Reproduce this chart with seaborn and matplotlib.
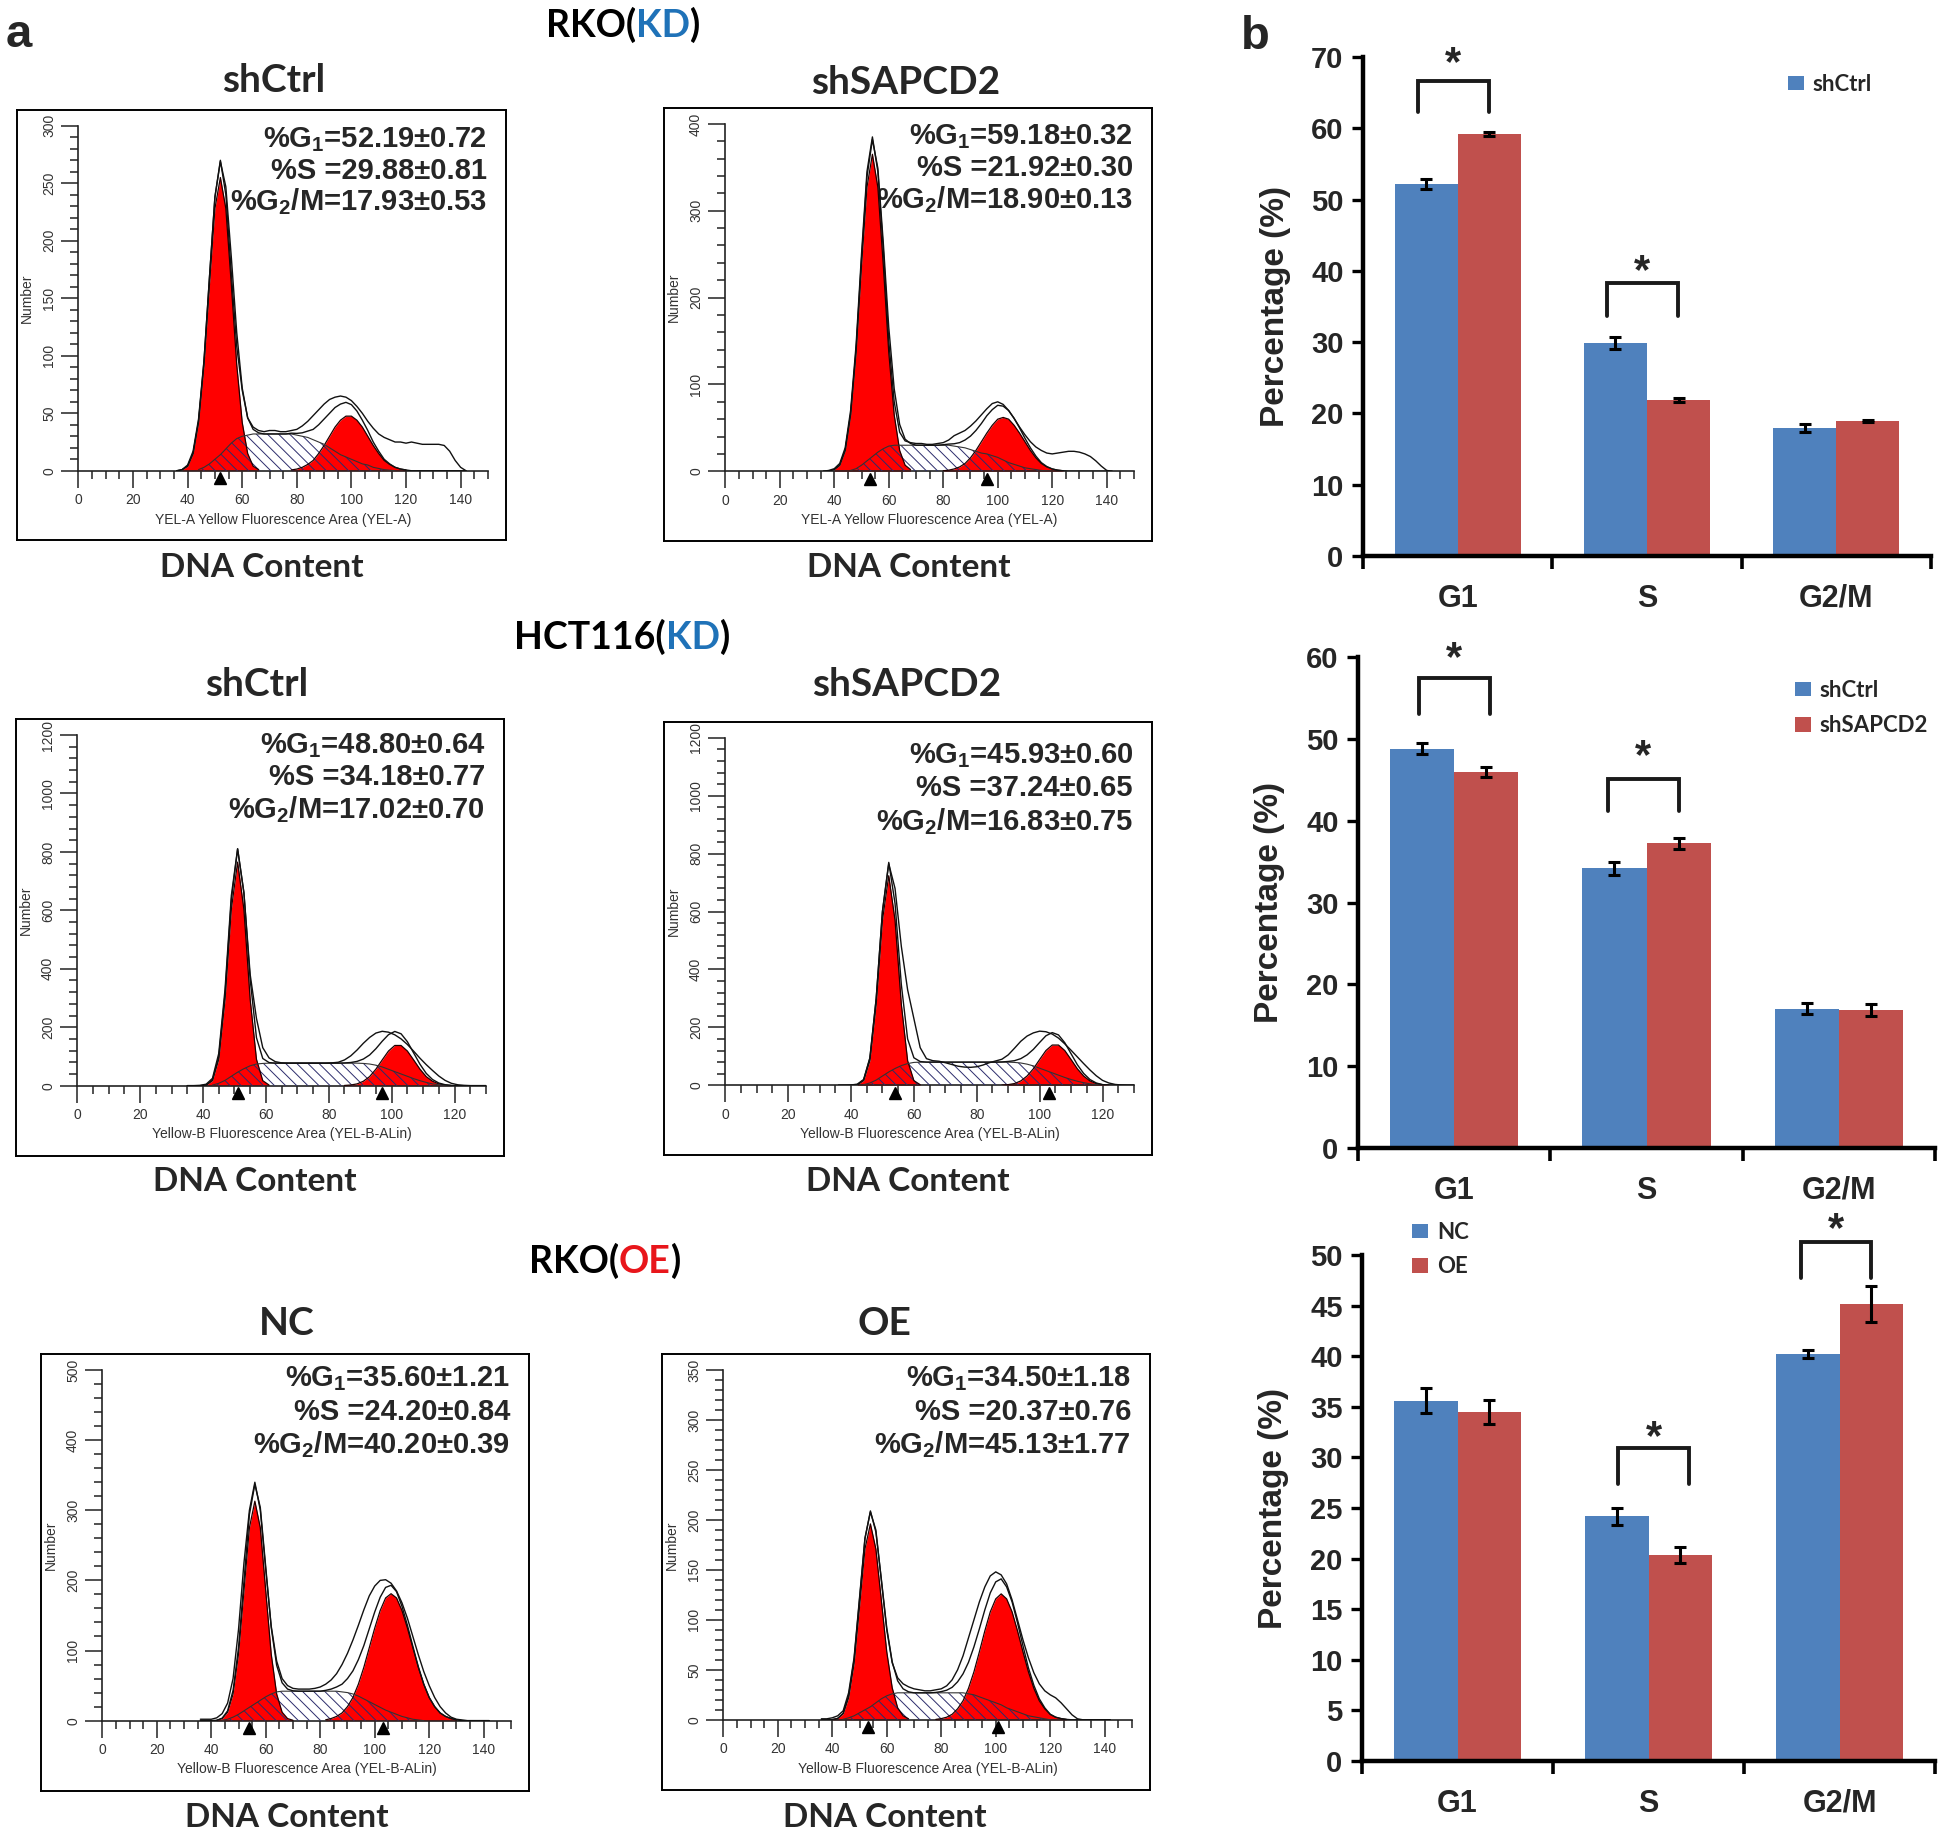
import numpy as np
import pandas as pd
import matplotlib
matplotlib.use('Agg')
import matplotlib.pyplot as plt
import seaborn as sns
from matplotlib.ticker import MultipleLocator, FixedLocator
from matplotlib.patches import Patch

# ---------------- data ----------------
PHASES = ['G1', 'S', 'G2/M']

# cell-cycle percentages (mean, sd) per condition
RKO_KD_CTRL = [52.19, 29.88, 17.93]
RKO_KD_CTRL_SD = [0.72, 0.81, 0.53]
RKO_KD_SH = [59.18, 21.92, 18.90]
RKO_KD_SH_SD = [0.32, 0.30, 0.13]
HCT_KD_CTRL = [48.80, 34.18, 17.02]
HCT_KD_CTRL_SD = [0.64, 0.77, 0.70]
HCT_KD_SH = [45.93, 37.24, 16.83]
HCT_KD_SH_SD = [0.60, 0.65, 0.75]
RKO_OE_NC = [35.60, 24.20, 40.20]
RKO_OE_NC_SD = [1.21, 0.84, 0.39]
RKO_OE_OE = [34.50, 20.37, 45.13]
RKO_OE_OE_SD = [1.18, 0.76, 1.77]

# flow histograms, sampled every 2 units of DNA content
# (start x, values) for G1 peak, S phase, G2 peak; data outline starts at grid start
TL_X0 = 36
TL_DATA = [0, 1, 5, 17, 45, 96, 168, 238, 270, 240, 172, 108, 70, 46, 38, 35, 34, 35, 35, 34,
           34, 35, 36, 39, 43, 48, 53, 58, 62, 64, 65, 64, 61, 56, 50, 43, 37, 32, 29, 27,
           25, 25, 24, 25, 24, 23, 23, 23, 23, 22, 17, 9, 3, 0]
TL_G1 = (38, [1, 4, 15, 42, 92, 162, 228, 255, 228, 162, 92, 42, 15, 4, 1])
TL_S = (44, [1, 3, 6, 10, 14, 19, 24, 28, 30, 31, 32, 32, 32, 32, 32, 32, 32, 32, 31, 30,
             29, 27, 25, 23, 20, 17, 14, 12, 10, 8, 6, 5, 3, 2, 1, 0.5, 0])
TL_G2 = (78, [0.7, 1.5, 3, 5.5, 9, 15, 22, 30, 38, 44, 47.5, 47.5, 44, 38, 30, 22, 15, 9, 5.5, 3, 1.5, 0.7])

TR_X0 = 36
TR_DATA = [0, 1, 3, 9, 27, 70, 145, 250, 345, 385, 345, 255, 150, 80, 45, 35, 33, 32, 32, 31,
           31, 32, 33, 36, 41, 44, 47, 52, 58, 65, 72, 78, 80, 77, 70, 61, 51, 42, 34, 28,
           24, 21, 20, 21, 22, 23, 23, 22, 20, 17, 12, 6, 1, 0]
TR_G1 = (40, [2, 7, 24, 65, 137, 237, 327, 365, 327, 237, 137, 65, 24, 7, 2])
TR_S = (46, [1, 3, 7, 12, 17, 22, 26, 29, 30, 30, 30, 30, 30, 30, 30, 30, 30, 30, 30, 29,
             28, 27, 25, 23, 21, 20, 18, 16, 13, 10, 8, 6, 4, 3, 2, 1, 0.5, 0])
TR_G2 = (80, [0.6, 1.3, 2.7, 5, 9, 15.5, 24, 34, 44, 53, 60, 62, 60, 53, 44, 34, 24, 15.5, 9, 5, 2.7, 1.3, 0.6])

ML_X0 = 35
ML_DATA = [0, 0, 1, 5, 25, 110, 330, 650, 810, 660, 380, 230, 130, 95, 82, 78, 77, 77, 77, 77,
           77, 77, 77, 78, 80, 88, 102, 122, 145, 165, 180, 186, 183, 174, 160, 141, 118, 94, 72, 52,
           33, 18, 8, 3, 1, 0, 0, 0, 0, 0, 0, 0, 0, 0]
ML_G1 = (41, [2, 17, 90, 295, 603, 765, 603, 295, 90, 17, 2])
ML_S = (43, [2, 8, 18, 32, 46, 58, 68, 74, 76, 77, 77, 77, 77, 77, 77, 77, 77, 77, 77, 77,
             77, 77, 77, 77, 76, 74, 70, 64, 56, 48, 40, 32, 24, 17, 11, 6, 3, 1, 0])
ML_G2 = (85, [0.7, 2.2, 6, 15, 31, 56.5, 88, 118.5, 137.5, 137.5, 118.5, 88, 56.5, 31, 15, 6, 2.2, 0.7])

MR_X0 = 36
MR_DATA = [0, 0, 1, 4, 20, 95, 300, 600, 765, 680, 480, 330, 230, 130, 92, 85, 83, 78, 72, 66,
           63, 62, 64, 70, 78, 84, 90, 105, 128, 152, 170, 181, 187, 185, 177, 163, 143, 121, 98, 75,
           53, 33, 17, 8, 3, 1, 0, 0, 0, 0, 0, 0, 0, 0]
MR_G1 = (42, [2, 16, 85, 280, 570, 724, 570, 280, 85, 16, 2])
MR_S = (44, [2, 8, 18, 32, 46, 58, 68, 75, 79, 80, 80, 80, 80, 80, 80, 80, 80, 80, 80, 80,
             80, 80, 80, 80, 79, 77, 73, 67, 59, 51, 43, 35, 27, 20, 14, 9, 5, 2, 0])
MR_G2 = (88, [0.7, 2.3, 6, 15, 32, 57, 89, 120, 139, 139, 120, 89, 57, 32, 15, 6, 2.3, 0.7])

BL_X0 = 36
BL_DATA = [2, 2, 2, 4, 10, 25, 60, 130, 225, 300, 340, 300, 215, 135, 85, 60, 50, 46, 45, 45,
           45, 46, 48, 52, 58, 67, 80, 96, 115, 136, 158, 178, 192, 200, 201, 196, 185, 168, 146, 120,
           94, 70, 50, 33, 20, 11, 5, 2, 1, 0, 0, 0, 0, 0]
BL_G1 = (42, [0.5, 3, 12, 38, 95, 185, 275, 313, 275, 185, 95, 38, 12, 3, 0.5])
BL_S = (44, [0.5, 2, 5, 9, 14, 19, 24, 29, 34, 38, 41, 42, 42, 42, 42, 42, 42, 42, 42, 42,
             42, 42, 41, 40, 38, 35, 31, 27, 23, 19, 15, 12, 9, 6, 4, 2, 1, 0])
BL_G2 = (82, [1.2, 3, 6, 11, 20, 33, 52, 76, 104, 132, 157, 175, 181, 175, 157, 132, 104, 76, 52, 33,
              20, 11, 6, 3, 1.2])

BR_X0 = 36
BR_DATA = [1, 1, 2, 4, 9, 27, 62, 122, 182, 208, 190, 140, 90, 57, 42, 36, 33, 31, 30, 29,
           29, 30, 31, 34, 40, 50, 64, 82, 100, 118, 133, 144, 148, 145, 136, 120, 100, 80, 62, 47,
           36, 29, 25, 22, 17, 11, 5, 1, 0, 0, 0, 0, 0, 0]
BR_G1 = (40, [0.2, 1.4, 6, 22, 56, 113, 171, 196, 171, 120, 68, 32, 12, 4, 1])
BR_S = (44, [0.5, 2, 4, 7, 10, 13, 17, 21, 24, 26, 27, 27, 27, 27, 27, 27, 27, 27, 27, 27,
             27, 27, 27, 26, 25, 23, 21, 19, 17, 15, 12, 10, 8, 6, 4, 3, 2, 1, 0])
BR_G2 = (78, [0.4, 1.2, 2.6, 5.5, 11, 19, 31.5, 48, 68, 89, 108, 121, 126, 121, 108, 89, 68, 48, 31.5, 19,
              11, 5.5, 2.6, 1.2, 0.4])

# peak markers (triangles under the axis)
TL_MARKS = [52]
TR_MARKS = [53, 96]
ML_MARKS = [51, 97]
MR_MARKS = [54, 103]
BL_MARKS = [54, 103]
BR_MARKS = [53, 101]

XLAB_A = 'YEL-A Yellow Fluorescence Area (YEL-A)'
XLAB_B = 'Yellow-B Fluorescence Area (YEL-B-ALin)'

# ---------------- style ----------------
sns.set_theme(style='ticks')
plt.rcParams['font.family'] = ['Liberation Sans', 'DejaVu Sans']
plt.rcParams['mathtext.fontset'] = 'custom'
plt.rcParams['mathtext.rm'] = 'Liberation Sans:bold'
plt.rcParams['mathtext.it'] = 'Liberation Sans:bold'
plt.rcParams['mathtext.bf'] = 'Liberation Sans:bold'
plt.rcParams['hatch.linewidth'] = 0.7

TITLE_FONT = ['Lato', 'DejaVu Sans']
BLUE = '#4F81BD'
RED = '#C0504D'
KD_BLUE = '#1f72b8'
OE_RED = '#e8161b'

W, H = 1951, 1844
fig = plt.figure(figsize=(W / 100, H / 100), dpi=100)


def fbox(x0, y0, x1, y1):
    return [x0 / W, 1 - y1 / H, (x1 - x0) / W, (y1 - y0) / H]


def flow_panel(box, xmax, ymax, ymaj, ymin, x0, data, g1, s, g2, marks, stats, rows, xlabel):
    bx0, by0, bx1, by1 = box
    bw, bh = bx1 - bx0, by1 - by0
    frame = fig.add_axes(fbox(*box))
    frame.set_xticks([])
    frame.set_yticks([])
    for sp in frame.spines.values():
        sp.set_visible(True)
        sp.set_linewidth(1.4)
        sp.set_color('black')

    ax = fig.add_axes(fbox(bx0 + 0.1256 * bw, by0 + 0.0367 * bh, bx0 + 0.963 * bw, by0 + 0.839 * bh))
    ax.patch.set_alpha(0)
    xs = x0 + 2 * np.arange(len(data))
    total = np.zeros(len(data))
    comp = {}
    for name, (c0, vals) in (('g1', g1), ('s', s), ('g2', g2)):
        vals = np.asarray(vals, float)
        i = (c0 - x0) // 2
        total[i:i + len(vals)] += vals
        comp[name] = (c0 + 2 * np.arange(len(vals)), vals)

    for name in ('g2', 'g1'):
        cx, v = comp[name]
        ax.fill_between(cx, 0, v, color='#ff0000', lw=0, zorder=2)
        ax.plot(cx, v, color='#200000', lw=0.9, zorder=4)
    cx, v = comp['s']
    ax.fill_between(cx, 0, v, facecolor='none', edgecolor='#2c2c6c', hatch='\\\\\\', lw=0, zorder=3)
    ax.plot(cx, v, color='#333333', lw=0.8, zorder=4)
    ax.plot(xs, total, color='#111111', lw=1.0, zorder=5)
    ax.plot(xs, data, color='#111111', lw=1.0, zorder=5)

    ax.plot(marks, [-0.021] * len(marks), transform=ax.get_xaxis_transform(), ls='none',
            marker='^', ms=9, color='black', clip_on=False, zorder=6)

    ax.set_xlim(0, xmax)
    ax.set_ylim(0, ymax)
    ax.xaxis.set_major_locator(MultipleLocator(20))
    ax.xaxis.set_minor_locator(MultipleLocator(5))
    ax.yaxis.set_major_locator(MultipleLocator(ymaj))
    ax.yaxis.set_minor_locator(MultipleLocator(ymin))
    for side in ('top', 'right'):
        ax.spines[side].set_visible(False)
    for side in ('left', 'bottom'):
        ax.spines[side].set_linewidth(1.2)
        ax.spines[side].set_color('#222222')
    ax.tick_params(which='major', length=12, width=1.1, direction='out', color='#222222',
                   labelsize=10, labelcolor='#333333', pad=4)
    ax.tick_params(which='minor', length=6, width=1.1, direction='out', color='#222222')
    ax.tick_params(axis='y', labelrotation=90)
    for lab in ax.get_yticklabels():
        lab.set_va('center')
    ax.set_xlabel(xlabel, fontsize=10, color='#333333', labelpad=4)
    ax.set_ylabel('Number', fontsize=10, color='#333333', labelpad=6)

    labels = ['%G$_1$={:.2f}±{:.2f}', '%S ={:.2f}±{:.2f}', '%G$_2$/M={:.2f}±{:.2f}']
    for k, (fmt, fy) in enumerate(zip(labels, rows)):
        frame.text(0.961, 1 - fy, fmt.format(stats[0][k], stats[1][k]), transform=frame.transAxes,
                   ha='right', va='center', fontsize=21, fontweight='bold')


def heading(xc, base, parts, size=27):
    r = fig.canvas.get_renderer()
    objs = [fig.text(0, 1 - base / H, t, color=c, fontsize=size, fontweight='bold',
                     family=TITLE_FONT, ha='left', va='baseline') for t, c in parts]
    ws = [o.get_window_extent(renderer=r).width for o in objs]
    x = xc - sum(ws) / 2
    for o, w in zip(objs, ws):
        o.set_x(x / W)
        x += w


def label(xc, base, text, size=28):
    fig.text(xc / W, 1 - base / H, text, fontsize=size, fontweight='bold', family=TITLE_FONT,
             ha='center', va='baseline')


def bar_panel(box, ymax, ystep, names, v0, e0, v1, e1, brackets, leg_n, leg_xy, leg_space):
    ax = fig.add_axes(fbox(*box))
    df = pd.DataFrame({'phase': PHASES + PHASES,
                       'group': [names[0]] * 3 + [names[1]] * 3,
                       'value': list(v0) + list(v1)})
    sns.barplot(data=df, x='phase', y='value', hue='group', hue_order=names,
                palette=[BLUE, RED], width=0.667, saturation=1, errorbar=None,
                legend=False, ax=ax, linewidth=0)
    for cont, err in zip(ax.containers, (e0, e1)):
        xc = [b.get_x() + b.get_width() / 2 for b in cont]
        hc = [b.get_height() for b in cont]
        ax.errorbar(xc, hc, yerr=err, fmt='none', ecolor='black', elinewidth=2.2,
                    capsize=4.5, capthick=2.2, zorder=5)
    for xa, xb, yb, yt, ys in brackets:
        ax.plot([xa, xa, xb, xb], [yb, yt, yt, yb], color='#1a1a1a', lw=2.8, clip_on=False,
                solid_joinstyle='miter', zorder=6)
        ax.annotate('*', xy=((xa + xb) / 2, ys), xytext=(0, -0.58 * 30), textcoords='offset points',
                    ha='center', va='baseline', fontsize=30, fontweight='bold', annotation_clip=False)

    ax.set_xlim(-0.5, 2.5)
    ax.set_ylim(0, ymax)
    ax.set_xlabel('')
    ax.set_ylabel('Percentage (%)', fontsize=24, fontweight='bold')
    ax.yaxis.set_label_coords(-0.127, 0.5)
    ax.set_xticks([0, 1, 2])
    ax.set_xticklabels(PHASES)
    ax.xaxis.set_minor_locator(FixedLocator([-0.5, 0.5, 1.5, 2.5]))
    ax.yaxis.set_major_locator(MultipleLocator(ystep))
    for side in ('top', 'right'):
        ax.spines[side].set_visible(False)
    for side in ('left', 'bottom'):
        ax.spines[side].set_linewidth(3.2)
        ax.spines[side].set_color('black')
    ax.tick_params(axis='x', which='major', length=0, pad=20, labelsize=22)
    ax.tick_params(axis='x', which='minor', length=9, width=2.6, direction='out', color='black')
    ax.tick_params(axis='y', which='major', length=8, width=2.4, direction='out', color='black',
                   labelsize=21, pad=6)
    for lab in ax.get_xticklabels() + ax.get_yticklabels():
        lab.set_fontweight('bold')

    handles = [Patch(facecolor=BLUE, edgecolor='none'), Patch(facecolor=RED, edgecolor='none')][:leg_n]
    ax.legend(handles, names[:leg_n], loc='upper left', bbox_to_anchor=leg_xy, frameon=False,
              borderpad=0, borderaxespad=0, handlelength=0.7, handleheight=0.62,
              handletextpad=0.4, labelspacing=leg_space,
              prop={'family': TITLE_FONT, 'weight': 'bold', 'size': 16})
    return ax


# ---------------- panel a ----------------
fig.text(6 / W, 1 - 47 / H, 'a', fontsize=34, fontweight='bold', ha='left', va='baseline')
fig.text(1241 / W, 1 - 49 / H, 'b', fontsize=34, fontweight='bold', ha='left', va='baseline')

heading(623, 37, [('RKO(', 'black'), ('KD', KD_BLUE), (')', 'black')])
heading(622, 649, [('HCT116(', 'black'), ('KD', KD_BLUE), (')', 'black')])
heading(605, 1273, [('RKO(', 'black'), ('OE', OE_RED), (')', 'black')])

label(274, 92, 'shCtrl')
label(906, 94, 'shSAPCD2')
label(257, 696, 'shCtrl')
label(907, 696, 'shSAPCD2')
label(287, 1335, 'NC')
label(884, 1335, 'OE')
for xc, base in ((262, 577), (909, 577), (255, 1191), (908, 1191), (287, 1827), (885, 1827)):
    label(xc, base, 'DNA Content', size=24)

flow_panel((17, 110, 506, 540), 150, 300, 50, 10, TL_X0, TL_DATA, TL_G1, TL_S, TL_G2, TL_MARKS,
           (RKO_KD_CTRL, RKO_KD_CTRL_SD), (0.068, 0.141, 0.214), XLAB_A)
flow_panel((664, 108, 1152, 541), 150, 400, 100, 20, TR_X0, TR_DATA, TR_G1, TR_S, TR_G2, TR_MARKS,
           (RKO_KD_SH, RKO_KD_SH_SD), (0.066, 0.139, 0.212), XLAB_A)
flow_panel((16, 719, 504, 1156), 130, 1200, 200, 40, ML_X0, ML_DATA, ML_G1, ML_S, ML_G2, ML_MARKS,
           (HCT_KD_CTRL, HCT_KD_CTRL_SD), (0.060, 0.133, 0.208), XLAB_B)
flow_panel((664, 722, 1152, 1155), 130, 1200, 200, 40, MR_X0, MR_DATA, MR_G1, MR_S, MR_G2, MR_MARKS,
           (HCT_KD_SH, HCT_KD_SH_SD), (0.077, 0.152, 0.229), XLAB_B)
flow_panel((41, 1354, 529, 1791), 150, 500, 100, 20, BL_X0, BL_DATA, BL_G1, BL_S, BL_G2, BL_MARKS,
           (RKO_OE_NC, RKO_OE_NC_SD), (0.057, 0.133, 0.208), XLAB_B)
flow_panel((662, 1354, 1150, 1790), 150, 350, 50, 10, BR_X0, BR_DATA, BR_G1, BR_S, BR_G2, BR_MARKS,
           (RKO_OE_OE, RKO_OE_OE_SD), (0.057, 0.134, 0.208), XLAB_B)

# ---------------- panel b ----------------
bar_panel((1363, 57, 1931, 556), 70, 10, ['shCtrl', 'shSAPCD2'],
          RKO_KD_CTRL, RKO_KD_CTRL_SD, RKO_KD_SH, RKO_KD_SH_SD,
          [(-0.21, 0.165, 62.3, 66.6, 70.9), (0.787, 1.164, 33.6, 38.3, 41.7)],
          1, (0.749, 0.966), 0.6)
bar_panel((1358, 657, 1935, 1148), 60, 10, ['shCtrl', 'shSAPCD2'],
          HCT_KD_CTRL, HCT_KD_CTRL_SD, HCT_KD_SH, HCT_KD_SH_SD,
          [(-0.183, 0.186, 53.0, 57.4, 61.3), (0.798, 1.167, 41.2, 45.1, 49.4)],
          2, (0.758, 0.953), 0.64)
bar_panel((1362, 1255, 1935, 1761), 50, 5, ['NC', 'OE'],
          RKO_OE_NC, RKO_OE_NC_SD, RKO_OE_OE, RKO_OE_OE_SD,
          [(0.84, 1.213, 27.35, 30.9, 33.2), (1.797, 2.163, 47.7, 51.3, 53.8)],
          2, (0.088, 1.066), 0.62)

fig.savefig('out.png', dpi=100)
